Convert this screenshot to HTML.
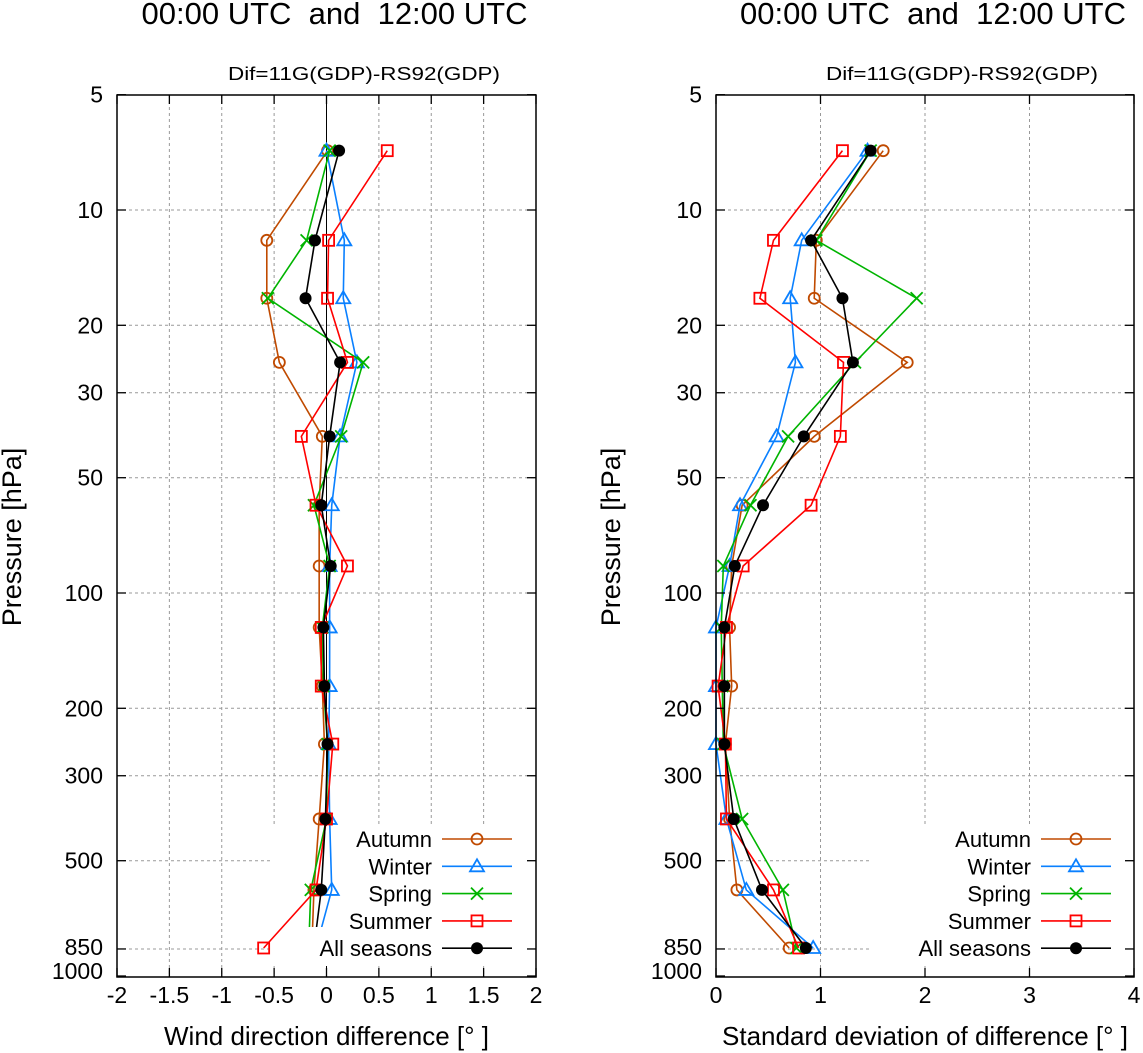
<!DOCTYPE html>
<html><head><meta charset="utf-8"><style>
html,body{margin:0;padding:0;background:#fff;}
svg{display:block;font-family:"Liberation Sans",Arial,sans-serif;}
</style></head><body>
<svg id="chart" width="1143" height="1053" viewBox="0 0 1143 1053" xmlns="http://www.w3.org/2000/svg"></svg>
<script>
const levels = [7, 12, 17, 25, 39, 59, 85, 123, 175, 248, 389, 596, 845];
const seriesNames = ["Autumn","Winter","Spring","Summer","All seasons"];
const dirAutumn = [0.01,-0.57,-0.57,-0.45,-0.04,-0.07,-0.07,-0.07,-0.04,-0.02,-0.07,-0.12,-0.14];
const dirWinter = [0.0,0.17,0.16,0.29,0.13,0.05,0.03,0.03,0.03,0.02,0.03,0.05,-0.1];
const dirSpring = [0.03,-0.19,-0.56,0.35,0.14,-0.12,0.03,-0.04,-0.03,0.01,0.0,-0.15,-0.17];
const dirSummer = [0.58,0.02,0.01,0.2,-0.24,-0.1,0.2,-0.05,-0.05,0.06,0.0,-0.1,-0.6];
const dirAll = [0.12,-0.11,-0.2,0.13,0.03,-0.05,0.04,-0.03,-0.02,0.01,-0.01,-0.05,-0.12];
const sdAutumn = [1.6,0.96,0.94,1.83,0.94,0.25,0.15,0.13,0.15,0.09,0.13,0.2,0.7];
const sdWinter = [1.45,0.82,0.71,0.76,0.58,0.23,0.13,0.0,0.0,0.0,0.1,0.29,0.93];
const sdSpring = [1.48,0.96,1.92,1.33,0.69,0.33,0.07,0.05,0.06,0.07,0.25,0.64,0.77];
const sdSummer = [1.21,0.55,0.42,1.22,1.19,0.91,0.26,0.1,0.02,0.09,0.1,0.55,0.79];
const sdAll = [1.48,0.91,1.21,1.31,0.84,0.45,0.18,0.08,0.08,0.08,0.17,0.44,0.86];
const yTickVals = [5,10,20,30,50,100,200,300,500,850,1000];
const leftXTicks = [-2,-1.5,-1,-0.5,0,0.5,1,1.5,2];
const rightXTicks = [0,1,2,3,4];

const NS="http://www.w3.org/2000/svg";
const svg=document.getElementById('chart');
function el(tag,attrs,parent){const e=document.createElementNS(NS,tag);for(const k in attrs)e.setAttribute(k,attrs[k]);(parent||svg).appendChild(e);return e;}
function yS(p){return 593-383*(2-Math.log10(p));}
const colors=["#c04a00","#0a80ff","#00b400","#ff0000","#000000"];

function marker(g,kind,x,y,c){
  let m;
  if(kind===0){m=el('circle',{cx:x,cy:y,r:5.5,fill:'none',stroke:c,'stroke-width':1.8},g);}
  else if(kind===1){m=el('polygon',{points:`${x},${y-7} ${x-7},${y+5} ${x+7},${y+5}`,fill:'none',stroke:c,'stroke-width':1.8},g);}
  else if(kind===2){m=el('path',{d:`M${x-6},${y-6}L${x+6},${y+6}M${x-6},${y+6}L${x+6},${y-6}`,stroke:c,'stroke-width':1.8},g);}
  else if(kind===3){m=el('rect',{x:x-5.5,y:y-5.5,width:11,height:11,fill:'none',stroke:c,'stroke-width':1.8},g);}
  else {m=el('circle',{cx:x,cy:y,r:6,fill:c},g);}
  
  
}

function panel(o){
  const g=el('g',{});
  
  
  const xS=v=>o.x0+(v-o.min)/(o.max-o.min)*(o.x1-o.x0);
  const top=95,bot=977;
  o.grid.forEach(v=>{const l=el('line',{x1:xS(v),x2:xS(v),y1:top,y2:bot,stroke:'#999','stroke-dasharray':'3,3','stroke-width':1},g);
    });
  [10,20,30,50,100,200,300,500,850].forEach(p=>{const l=el('line',{x1:o.x0,x2:o.x1,y1:yS(p),y2:yS(p),stroke:'#999','stroke-dasharray':'3,3','stroke-width':1},g);
    });
  if(o.zeroLine){const z=el('line',{x1:xS(0),x2:xS(0),y1:top,y2:bot,stroke:'#000','stroke-width':1},g);
    }
  const lb=el('rect',{x:o.legX,y:826,width:o.x1-o.legX-2,height:140,fill:'#fff'},g);
  
  const cid='clip'+o.name;
  const cp=el('clipPath',{id:cid},g);
  el('rect',{x:o.x0,y:top,width:o.x1-o.x0,height:927-top},cp);
  o.data.forEach((arr,si)=>{
    const sg=el('g',{},g);
    
    
    const pts=arr.map((v,i)=>xS(v)+','+yS(levels[i])).join(' ');
    const pl=el('polyline',{points:pts,fill:'none',stroke:colors[si],'stroke-width':1.6},sg);
    if(o.clipLow && si!==3) pl.setAttribute('clip-path',`url(#${cid})`);
    
    arr.forEach((v,i)=>{ if(o.clipLow && si!==3 && i===levels.length-1) return; marker(sg,si,xS(v),yS(levels[i]),colors[si]);});
  });
  const fr=el('rect',{x:o.x0,y:top,width:o.x1-o.x0,height:bot-top,fill:'none',stroke:'#000','stroke-width':1.5},g);
  
  o.ticks.forEach(v=>{const x=xS(v);
    el('line',{x1:x,x2:x,y1:bot,y2:bot-9,stroke:'#000','stroke-width':1.3},g);
    el('line',{x1:x,x2:x,y1:top,y2:top+9,stroke:'#000','stroke-width':1.3},g);
    const t=el('text',{x:x,y:1003,'font-size':23,'text-anchor':'middle'},g);t.textContent=String(v);
    });
  yTickVals.forEach(p=>{const y=yS(p);
    el('line',{x1:o.x0,x2:o.x0+9,y1:y,y2:y,stroke:'#000','stroke-width':1.3},g);
    el('line',{x1:o.x1,x2:o.x1-9,y1:y,y2:y,stroke:'#000','stroke-width':1.3},g);
    const t=el('text',{x:o.x0-14,y:y+(p===1000?3:p===850?6:8),'font-size':23,'text-anchor':'end'},g);t.textContent=String(p);
    });
  seriesNames.forEach((n,i)=>{const y=839+i*27.3;
    const lg=el('g',{},g);
    
    const t=el('text',{x:o.legTextX,y:y+8,'font-size':22,'text-anchor':'end'},lg);t.textContent=n;
    el('line',{x1:o.legTextX+10,x2:o.legTextX+80,y1:y,y2:y,stroke:colors[i],'stroke-width':1.6},lg);
    marker(lg,i,o.legTextX+45,y,colors[i]);});
  const t1=el('text',{x:(o.x0+o.x1)/2+8,y:24,'font-size':31,'text-anchor':'middle'},g);t1.textContent='00:00 UTC  and  12:00 UTC';
  t1.style.whiteSpace='pre';
  const t2=el('text',{x:o.x1-36,y:80,'font-size':18,'text-anchor':'end',textLength:272,lengthAdjust:'spacingAndGlyphs'},g);t2.textContent='Dif=11G(GDP)-RS92(GDP)';
  
  const xl=el('text',{x:(o.x0+o.x1)/2,y:1045,'font-size':26,'text-anchor':'middle'},g);xl.textContent=o.xlabel;
  
  const yl=el('text',{x:0,y:0,'font-size':27,'text-anchor':'middle',transform:`translate(${o.x0-96},537) rotate(-90)`},g);yl.textContent='Pressure [hPa]';
  
}
panel({name:'wind-direction-panel',x0:117,x1:536,min:-2,max:2,ticks:leftXTicks,grid:[-1.5,-1,-0.5,0.5,1,1.5],zeroLine:true,
  data:[dirAutumn,dirWinter,dirSpring,dirSummer,dirAll],legX:270,legTextX:432,clipLow:true,xlabel:'Wind direction difference [° ]'});
panel({name:'std-dev-panel',x0:716,x1:1134,min:0,max:4,ticks:rightXTicks,grid:[1,2,3],zeroLine:false,
  data:[sdAutumn,sdWinter,sdSpring,sdSummer,sdAll],legX:870,legTextX:1031,clipLow:false,xlabel:'Standard deviation of difference [° ]'});
</script>
</body></html>
